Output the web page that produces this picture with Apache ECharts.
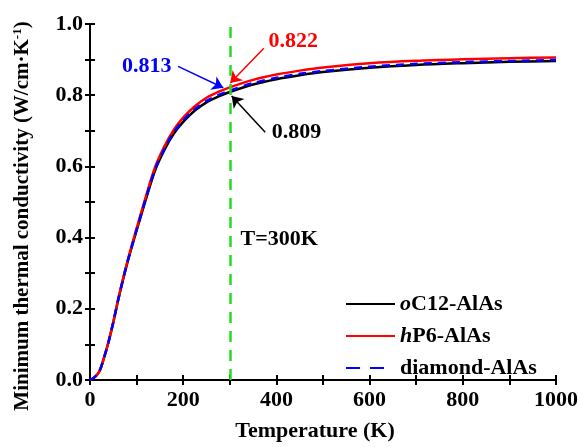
<!DOCTYPE html>
<html>
<head>
<meta charset="utf-8">
<script src="https://cdn.jsdelivr.net/npm/echarts@6/dist/echarts.min.js"></script>
<style>
    html, body { margin: 0; padding: 0; background: #fff; }
    #myChart { width: 581px; height: 447px; }
</style>
</head>
<body>
<div id="myChart"></div>
<script>
// temperature (K)
const temps = [0, 10, 20, 30, 40, 50, 60, 70, 80, 90, 100, 120, 140, 160, 180, 200, 225, 250, 275, 300, 350, 400, 450, 500, 600, 700, 800, 900, 1000];
// minimum thermal conductivity (W/cm K)
const oc12 = [0, 0.008, 0.024, 0.062, 0.108, 0.162, 0.222, 0.277, 0.328, 0.375, 0.420, 0.508, 0.590, 0.647, 0.692, 0.725, 0.757, 0.780, 0.796, 0.809, 0.830, 0.845, 0.856, 0.865, 0.877, 0.885, 0.890, 0.894, 0.896];
const hp6 = [0, 0.008, 0.024, 0.062, 0.108, 0.163, 0.224, 0.280, 0.332, 0.380, 0.426, 0.516, 0.599, 0.657, 0.703, 0.737, 0.769, 0.793, 0.809, 0.822, 0.843, 0.858, 0.869, 0.878, 0.890, 0.897, 0.901, 0.904, 0.906];
const diamond = [0, 0.008, 0.024, 0.062, 0.108, 0.162, 0.223, 0.278, 0.330, 0.377, 0.422, 0.511, 0.593, 0.650, 0.696, 0.729, 0.761, 0.784, 0.800, 0.813, 0.834, 0.849, 0.860, 0.868, 0.880, 0.888, 0.893, 0.896, 0.899];
const seriesNames = ['oC12-AlAs', 'hP6-AlAs', 'diamond-AlAs'];
const markT = 300;
const markLabels = ['0.809', '0.822', '0.813'];

const font = 'Liberation Serif';

function pairs(ys) {
    return temps.map((t, i) => [t, ys[i]]);
}

function arrow(color, from, to) {
    return {
        symbol: ['none', 'arrow'],
        symbolSize: 11,
        silent: true,
        label: { show: false },
        lineStyle: { color: color, width: 1.5, type: 'solid' },
        data: [[{ coord: from }, { coord: to }]]
    };
}

function note(text, color, coord) {
    return {
        symbol: 'circle',
        symbolSize: 0,
        silent: true,
        data: [{
            coord: coord,
            label: {
                show: true,
                formatter: text,
                color: color,
                fontFamily: font,
                fontWeight: 'bold',
                fontSize: 22
            }
        }]
    };
}

let myChart = echarts.init(document.getElementById('myChart'));
let axisLine = { show: true, lineStyle: { color: '#000', width: 2 } };
let tick = { inside: true, length: 5, lineStyle: { width: 2, color: '#000' } };
let minor = { show: true, splitNumber: 2, length: 5, lineStyle: { width: 2, color: '#000' } };
let option = {
    animation: false,
    backgroundColor: '#fff',
    grid: { left: 90, right: 25, top: 24, bottom: 63 },
    legend: {
        orient: 'vertical',
        left: 340,
        top: 288,
        itemWidth: 49,
        itemHeight: 14,
        itemGap: 10,
        itemStyle: { opacity: 0 },
        data: [
            { name: seriesNames[0] },
            { name: seriesNames[1] },
            { name: seriesNames[2], lineStyle: { type: [14, 10, 14, 100] } }
        ],
        formatter: function (name) {
            if (name === 'oC12-AlAs') return '{i|o}{n|C12-AlAs}';
            if (name === 'hP6-AlAs') return '{i|h}{n|P6-AlAs}';
            return '{n|' + name + '}';
        },
        textStyle: {
            rich: {
                i: { fontFamily: font, fontWeight: 'bold', fontStyle: 'italic', fontSize: 22, color: '#000', lineHeight: 24 },
                n: { fontFamily: font, fontWeight: 'bold', fontSize: 22, color: '#000', lineHeight: 24 }
            }
        }
    },
    xAxis: [
        {
            type: 'value',
            min: 0,
            max: 1000,
            interval: 200,
            name: 'Temperature (K)',
            nameLocation: 'middle',
            nameGap: 40,
            nameTextStyle: { fontFamily: font, fontWeight: 'bold', fontSize: 22, color: '#000', padding: [0, 16, 0, 0] },
            axisLine: axisLine,
            axisTick: tick,
            minorTick: minor,
            axisLabel: {
                margin: 9, fontFamily: font, fontWeight: 'bold', fontSize: 22, color: '#000',
                formatter: (v) => String(v)
            },
            splitLine: { show: false }
        },
        {
            type: 'value',
            position: 'top',
            min: 0,
            max: 1000,
            interval: 200,
            axisLine: axisLine,
            axisTick: tick,
            minorTick: minor,
            axisLabel: { show: false },
            splitLine: { show: false }
        }
    ],
    yAxis: [
        {
            type: 'value',
            min: 0,
            max: 1.0,
            interval: 0.2,
            name: 'Minimum thermal conductivity (W/cm·K{s|-1})',
            nameLocation: 'middle',
            nameGap: 56,
            nameTextStyle: {
                fontFamily: font, fontWeight: 'bold', fontSize: 21, color: '#000',
                padding: [0, 28, 0, 0],
                rich: {
                    s: { fontFamily: font, fontWeight: 'bold', fontSize: 13, color: '#000', padding: [0, 0, 10, 0] }
                }
            },
            axisLine: axisLine,
            axisTick: tick,
            minorTick: minor,
            axisLabel: {
                margin: 7, fontFamily: font, fontWeight: 'bold', fontSize: 22, color: '#000',
                formatter: (v) => v.toFixed(1)
            },
            splitLine: { show: false }
        },
        {
            type: 'value',
            position: 'right',
            min: 0,
            max: 1.0,
            interval: 0.2,
            axisLine: axisLine,
            axisTick: tick,
            minorTick: minor,
            axisLabel: { show: false },
            splitLine: { show: false }
        }
    ],
    series: [
        {
            name: seriesNames[0],
            type: 'line',
            symbol: 'none',
            smooth: 0.3,
            color: '#000000',
            lineStyle: { width: 2.5 },
            data: pairs(oc12),
            markLine: arrow('#000000', [376, 0.696], [304, 0.798]),
            markPoint: note(markLabels[0], '#000000', [443, 0.696])
        },
        {
            name: seriesNames[1],
            type: 'line',
            symbol: 'none',
            smooth: 0.3,
            color: '#ff0000',
            lineStyle: { width: 2.5 },
            data: pairs(hp6),
            markLine: arrow('#ff0000', [373, 0.932], [301, 0.834]),
            markPoint: note(markLabels[1], '#ff0000', [436, 0.951])
        },
        {
            name: seriesNames[2],
            type: 'line',
            symbol: 'none',
            smooth: 0.3,
            color: '#0000ff',
            lineStyle: { width: 2.5, type: [8, 6] },
            data: pairs(diamond),
            markLine: arrow('#0000ff', [189, 0.881], [286, 0.821]),
            markPoint: note(markLabels[2], '#0000ff', [122, 0.881])
        },
        {
            // vertical marker at T = 300 K
            type: 'line',
            data: [],
            markLine: {
                symbol: 'none',
                silent: true,
                label: { show: false },
                lineStyle: { color: '#22dd22', width: 2.5, type: [11, 8] },
                data: [{ xAxis: markT }]
            },
            markPoint: {
                symbol: 'circle',
                symbolSize: 0,
                silent: true,
                data: [{
                    coord: [323, 0.395],
                    label: {
                        show: true,
                        formatter: 'T=' + markT + 'K',
                        align: 'left',
                        color: '#000',
                        fontFamily: font,
                        fontWeight: 'bold',
                        fontSize: 22
                    }
                }]
            }
        }
    ]
};
window.onresize = myChart.resize;
myChart.setOption(option);
</script>
</body>
</html>
